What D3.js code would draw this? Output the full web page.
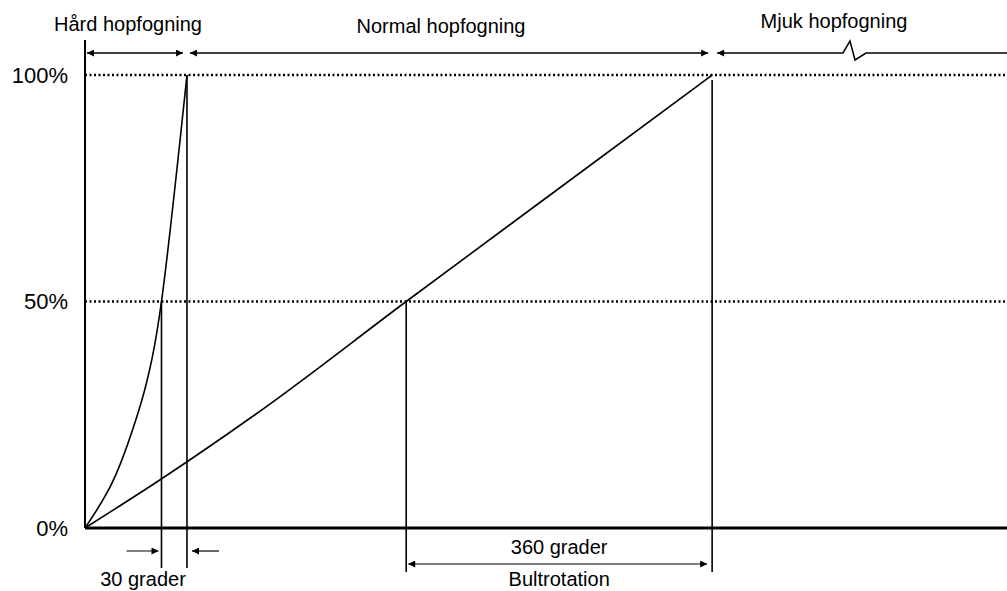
<!DOCTYPE html>
<html>
<head>
<meta charset="utf-8">
<script src="https://cdn.jsdelivr.net/npm/d3@7"></script>
<style>
  body { margin: 0; background: #fff; }
  svg { display: block; font-family: "Liberation Sans", Arial, sans-serif; }
</style>
</head>
<body>
<svg id="chart"></svg>
<script>
// rotation (grader) vs. percentage
const hardDeg = [0, 32, 65, 79, 90, 120];
const hardPct = [0, 10, 27, 37.5, 50, 100];
const normalDeg = [0, 88, 200, 378, 558, 738];
const normalPct = [0, 10.6, 25, 50, 75, 100];

const yTicks = [0, 50, 100];
const yTickLabels = ["0%", "50%", "100%"];

const zoneLabels = ["Hård hopfogning", "Normal hopfogning", "Mjuk hopfogning"];
const zoneStart = [0, 120, 738];
const zoneEnd = [120, 738, 1085];

const markerDeg = [90, 120, 378, 738];
const markerPct = [50, 100, 50, 100];

const width = 1007, height = 591;
const svg = d3.select("#chart").attr("width", width).attr("height", height);

const x = d3.scaleLinear().domain([0, 1085]).range([85, 1007]);
const y = d3.scaleLinear().domain([0, 100]).range([528, 75]);

const defs = svg.append("defs");
defs.append("marker")
    .attr("id", "head")
    .attr("viewBox", "0 0 10 10")
    .attr("refX", 10).attr("refY", 5)
    .attr("markerWidth", 8).attr("markerHeight", 7)
    .attr("markerUnits", "userSpaceOnUse")
    .attr("orient", "auto-start-reverse")
    .append("path").attr("d", "M0,0L10,5L0,10Z").attr("fill", "#000");

// dotted reference lines at 50% and 100%
svg.selectAll("line.grid")
    .data([50, 100])
    .join("line")
    .attr("class", "grid")
    .attr("x1", x(0)).attr("x2", width)
    .attr("y1", d => y(d)).attr("y2", d => y(d))
    .attr("stroke", "#000")
    .attr("stroke-width", 2.5)
    .attr("stroke-dasharray", "2,2.5");

// y axis
const yAxis = svg.append("g")
    .attr("transform", `translate(${x(0)},0)`)
    .call(d3.axisLeft(y).tickValues(yTicks)
        .tickFormat((d, i) => yTickLabels[i]).tickSize(0).tickPadding(17));
yAxis.select(".domain").remove();
yAxis.selectAll("text")
    .attr("font-size", 22)
    .attr("font-family", "Liberation Sans, Arial, sans-serif")
    .attr("fill", "#000");

svg.append("line")
    .attr("x1", x(0)).attr("x2", x(0))
    .attr("y1", 40).attr("y2", y(0))
    .attr("stroke", "#000").attr("stroke-width", 2);

// marker verticals
svg.selectAll("line.mark")
    .data(markerDeg)
    .join("line")
    .attr("class", "mark")
    .attr("x1", d => x(d)).attr("x2", d => x(d))
    .attr("y1", (d, i) => y(markerPct[i]) + (i === 3 ? 5 : 0))
    .attr("y2", (d, i) => i < 2 ? 568 : 572)
    .attr("stroke", "#000")
    .attr("stroke-width", 1.6);

// baseline
svg.append("line")
    .attr("x1", x(0)).attr("x2", width)
    .attr("y1", y(0)).attr("y2", y(0))
    .attr("stroke", "#000").attr("stroke-width", 3);

// curves
const hardLine = d3.line().curve(d3.curveCatmullRom.alpha(0.5));
const line = d3.line().curve(d3.curveMonotoneY);
svg.append("path")
    .attr("d", hardLine(hardDeg.map((d, i) => [x(d), y(hardPct[i])])))
    .attr("fill", "none").attr("stroke", "#000").attr("stroke-width", 1.6);
svg.append("path")
    .attr("d", line(normalDeg.map((d, i) => [x(d), y(normalPct[i])])))
    .attr("fill", "none").attr("stroke", "#000").attr("stroke-width", 1.6);

// zone arrows and labels
const topY = 53;
svg.append("line")
    .attr("x1", x(zoneStart[0]) + 2).attr("x2", x(zoneEnd[0]) - 4)
    .attr("y1", topY).attr("y2", topY)
    .attr("stroke", "#000").attr("stroke-width", 1.5)
    .attr("marker-start", "url(#head)").attr("marker-end", "url(#head)");
svg.append("line")
    .attr("x1", x(zoneStart[1]) + 3).attr("x2", x(zoneEnd[1]) - 4)
    .attr("y1", topY).attr("y2", topY)
    .attr("stroke", "#000").attr("stroke-width", 1.5)
    .attr("marker-start", "url(#head)").attr("marker-end", "url(#head)");
svg.append("path")
    .attr("d", `M${width},${topY}L866,${topY}L855,60L850,41L843,${topY}L${x(zoneStart[2]) + 5},${topY}`)
    .attr("fill", "none").attr("stroke", "#000").attr("stroke-width", 1.5)
    .attr("marker-end", "url(#head)");

const labelX = [128, 441, 834];
const labelY = [31, 33, 28];
svg.selectAll("text.zone")
    .data(zoneLabels)
    .join("text")
    .attr("class", "zone")
    .attr("x", (d, i) => labelX[i]).attr("y", (d, i) => labelY[i])
    .attr("text-anchor", "middle")
    .attr("font-size", 20)
    .text(d => d);

// 30 grader
const aY = 551;
svg.append("line")
    .attr("x1", x(markerDeg[0]) - 35).attr("x2", x(markerDeg[0]) - 3)
    .attr("y1", aY).attr("y2", aY)
    .attr("stroke", "#000").attr("stroke-width", 1.2)
    .attr("marker-end", "url(#head)");
svg.append("line")
    .attr("x1", x(markerDeg[1]) + 32).attr("x2", x(markerDeg[1]) + 5)
    .attr("y1", aY).attr("y2", aY)
    .attr("stroke", "#000").attr("stroke-width", 1.2)
    .attr("marker-end", "url(#head)");
svg.append("text")
    .attr("x", 143).attr("y", 586)
    .attr("text-anchor", "middle").attr("font-size", 20)
    .text((markerDeg[1] - markerDeg[0]) + " grader");

// 360 grader
svg.append("line")
    .attr("x1", x(markerDeg[2]) + 2).attr("x2", x(markerDeg[3]) - 5)
    .attr("y1", 564).attr("y2", 564)
    .attr("stroke", "#000").attr("stroke-width", 1.2)
    .attr("marker-start", "url(#head)").attr("marker-end", "url(#head)");
const midX = (x(markerDeg[2]) + x(markerDeg[3])) / 2;
svg.append("text")
    .attr("x", midX).attr("y", 554)
    .attr("text-anchor", "middle").attr("font-size", 20)
    .text((markerDeg[3] - markerDeg[2]) + " grader");
svg.append("text")
    .attr("x", midX).attr("y", 586)
    .attr("text-anchor", "middle").attr("font-size", 20)
    .text("Bultrotation");
</script>
</body>
</html>
